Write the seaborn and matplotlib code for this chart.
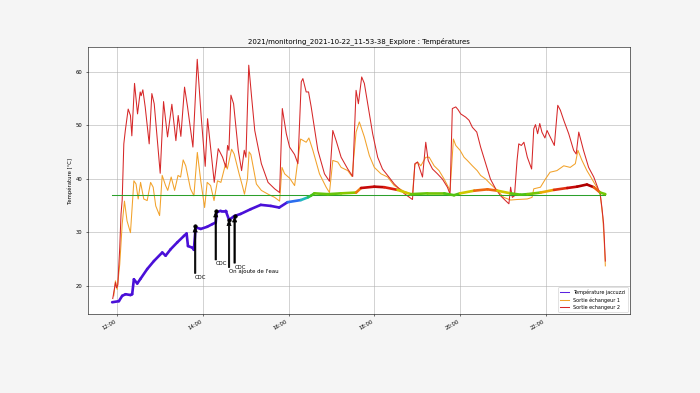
import numpy as np
import pandas as pd
import matplotlib
matplotlib.use("Agg")
import matplotlib.pyplot as plt
import matplotlib.dates as mdates
from matplotlib.collections import LineCollection
from matplotlib.colors import LinearSegmentedColormap, Normalize
import seaborn as sns

DAY = "2021-10-22"
TITLE = "2021/monitoring_2021-10-22_11-53-38_Explore : Températures"
YLABEL = "Température [°C]"
SETPOINT = 37.0

# Température jaccuzzi (hours of day, °C)
jacuzzi_hours = [11.883, 12.04, 12.117, 12.195, 12.31, 12.35, 12.39, 12.468, 12.546, 12.70,
                 12.857, 13.052, 13.13, 13.247, 13.403, 13.559, 13.62, 13.652, 13.754, 13.79,
                 13.83, 13.95, 14.10, 14.22, 14.30, 14.32, 14.416, 14.533, 14.61, 14.73,
                 14.88, 15.117, 15.35, 15.585, 15.78, 15.975, 16.287, 16.45, 16.52, 16.6,
                 16.915, 17.225, 17.574, 17.69, 18.0, 18.23, 18.54, 18.85, 19.24, 19.63,
                 19.86, 20.0, 20.33, 20.64, 20.87, 21.18, 21.41, 21.57, 21.88, 22.19,
                 22.5, 22.73, 22.96, 23.12, 23.27, 23.39]
jacuzzi_temp = [16.9, 17.1, 18.1, 18.4, 18.25, 18.4, 21.2, 20.4, 21.3, 23.1,
                24.6, 26.2, 25.6, 26.8, 28.1, 29.3, 29.75, 27.4, 27.1, 26.7,
                30.9, 30.6, 31.0, 31.5, 31.8, 33.7, 34.0, 34.0, 32.3, 33.0,
                33.4, 34.3, 35.1, 34.9, 34.6, 35.6, 36.0, 36.5, 36.8, 37.25,
                37.1, 37.25, 37.4, 38.25, 38.5, 38.4, 37.9, 37.1, 37.25, 37.25,
                36.9, 37.25, 37.75, 38.0, 37.75, 37.25, 37.0, 37.1, 37.4, 37.9,
                38.25, 38.5, 38.9, 38.4, 37.4, 37.1]

# Sortie échangeur 1
ech1_hours = [11.92, 11.96, 12.0, 12.06, 12.117, 12.17, 12.23, 12.31, 12.39, 12.44,
              12.49, 12.546, 12.62, 12.70, 12.78, 12.84, 12.9, 12.99, 13.05, 13.13,
              13.18, 13.26, 13.34, 13.42, 13.48, 13.54, 13.6, 13.71, 13.79, 13.87,
              13.95, 14.04, 14.10, 14.18, 14.26, 14.34, 14.42, 14.53, 14.57, 14.67,
              14.73, 14.845, 14.92, 14.97, 15.04, 15.078, 15.12, 15.248, 15.364, 15.52,
              15.674, 15.79, 15.845, 15.907, 16.023, 16.14, 16.28, 16.41, 16.473, 16.566,
              16.72, 16.876, 16.953, 17.031, 17.147, 17.225, 17.38, 17.48, 17.574, 17.65,
              17.767, 17.884, 18.0, 18.155, 18.31, 18.465, 18.70, 18.89, 18.946, 19.008,
              19.085, 19.2, 19.28, 19.395, 19.51, 19.63, 19.767, 19.845, 19.9, 20.0,
              20.093, 20.17, 20.287, 20.4, 20.48, 20.6, 20.71, 20.87, 21.02, 21.18,
              21.33, 21.57, 21.68, 21.72, 21.876, 21.99, 22.1, 22.26, 22.42, 22.57,
              22.69, 22.75, 22.845, 22.96, 23.08, 23.19, 23.27, 23.33, 23.36, 23.39]
ech1_temp = [18.1, 20.9, 19.3, 24.0, 31.5, 35.8, 32.1, 29.9, 39.6, 39.0,
             36.2, 39.3, 36.2, 35.9, 39.3, 38.4, 34.9, 33.1, 40.6, 38.7,
             37.8, 40.3, 37.8, 40.6, 40.3, 43.5, 42.4, 38.1, 36.8, 44.9,
             39.6, 34.6, 39.3, 38.7, 35.9, 39.6, 39.3, 42.8, 41.8, 45.5,
             44.6, 40.9, 38.7, 37.1, 40.0, 45.0, 44.5, 39.0, 37.8, 37.1,
             36.5, 35.8, 42.1, 40.9, 40.1, 38.7, 47.4, 46.8, 47.6, 45.3,
             40.9, 38.4, 37.4, 43.4, 43.1, 42.1, 41.5, 40.4, 48.7, 50.6,
             47.8, 44.3, 42.1, 40.9, 40.3, 38.7, 37.6, 37.1, 42.6, 43.1,
             42.4, 44.0, 44.0, 42.4, 41.5, 39.9, 37.8, 47.4, 46.2, 45.3,
             44.0, 43.4, 42.4, 41.5, 40.6, 39.9, 39.0, 37.8, 36.5, 36.0,
             36.1, 36.2, 36.5, 38.1, 38.4, 39.9, 41.2, 41.5, 42.4, 42.1,
             42.8, 45.3, 43.4, 41.5, 39.9, 38.4, 37.1, 32.8, 29.0, 23.7]

# Sortie echangeur 2
ech2_hours = [11.897, 11.96, 11.984, 12.014, 12.06, 12.09, 12.117, 12.155, 12.19, 12.257,
              12.31, 12.342, 12.405, 12.475, 12.537, 12.56, 12.599, 12.654, 12.747, 12.809,
              12.864, 13.004, 13.082, 13.175, 13.276, 13.37, 13.424, 13.486, 13.572, 13.642,
              13.767, 13.868, 13.961, 14.054, 14.109, 14.171, 14.265, 14.358, 14.459, 14.537,
              14.576, 14.607, 14.654, 14.716, 14.825, 14.903, 14.965, 15.004, 15.07, 15.136,
              15.21, 15.364, 15.52, 15.674, 15.79, 15.853, 15.946, 16.023, 16.14, 16.217,
              16.295, 16.333, 16.41, 16.465, 16.527, 16.682, 16.837, 16.953, 17.031, 17.109,
              17.225, 17.38, 17.496, 17.574, 17.628, 17.705, 17.767, 17.845, 17.961, 18.078,
              18.19, 18.31, 18.465, 18.70, 18.89, 18.946, 19.008, 19.124, 19.2, 19.256,
              19.357, 19.473, 19.59, 19.705, 19.767, 19.82, 19.9, 19.953, 20.015, 20.13,
              20.21, 20.287, 20.39, 20.48, 20.6, 20.71, 20.83, 20.946, 21.06, 21.14,
              21.18, 21.22, 21.27, 21.33, 21.37, 21.43, 21.49, 21.57, 21.67, 21.72,
              21.76, 21.81, 21.86, 21.91, 21.98, 22.03, 22.085, 22.2, 22.28, 22.34,
              22.42, 22.535, 22.65, 22.71, 22.77, 22.88, 23.0, 23.12, 23.21, 23.27,
              23.31, 23.35, 23.39]
ech2_temp = [17.6, 20.6, 19.6, 20.1, 27.1, 33.4, 36.0, 46.5, 49.0, 53.0,
             51.8, 48.0, 57.8, 52.1, 56.2, 55.5, 56.6, 53.4, 46.5, 55.9,
             54.0, 41.0, 54.4, 47.8, 53.9, 47.1, 51.8, 47.9, 57.1, 53.4,
             45.9, 62.3, 51.5, 42.3, 51.2, 46.5, 39.3, 45.6, 44.0, 42.1,
             46.2, 45.3, 55.6, 54.0, 45.3, 41.5, 45.3, 44.0, 61.2, 55.3,
             49.0, 42.8, 39.3, 38.1, 37.4, 53.1, 48.4, 45.9, 44.5, 42.8,
             58.1, 58.7, 56.2, 56.2, 53.4, 45.3, 40.9, 39.5, 49.0, 47.1,
             44.0, 41.8, 40.4, 56.5, 54.0, 59.0, 57.8, 54.0, 48.4, 44.0,
             41.8, 40.6, 39.0, 37.2, 36.1, 42.8, 43.1, 40.3, 46.8, 43.4,
             41.8, 40.9, 39.9, 38.4, 37.1, 53.1, 53.4, 52.9, 52.1, 51.5,
             50.9, 49.6, 48.7, 45.9, 42.8, 39.9, 38.1, 36.8, 35.9, 35.3,
             38.4, 36.5, 36.8, 43.4, 46.5, 46.2, 46.8, 44.0, 41.8, 49.3,
             50.1, 48.4, 50.3, 48.7, 47.6, 49.0, 48.1, 46.2, 53.7, 52.8,
             50.9, 48.4, 45.3, 44.6, 48.7, 45.3, 42.1, 40.3, 38.4, 37.1,
             34.6, 31.5, 24.6]

# Events annotated on the jacuzzi curve
event_labels = ["CDC", "CDC", "On ajoute de l'eau", "CDC"]
event_hours = [13.82, 14.30, 14.61, 14.74]
event_temp = [31.06, 33.87, 32.26, 32.93]
# text anchor (layout) for each event, in data coordinates
event_text_temp = [21.3, 23.8, 22.4, 23.2]


def to_time(hours):
    return pd.Timestamp(DAY) + pd.to_timedelta(np.asarray(hours, dtype=float), unit="h")


t_j = to_time(jacuzzi_hours)
t_1 = to_time(ech1_hours)
t_2 = to_time(ech2_hours)
t_e = to_time(event_hours)

fig, ax = plt.subplots(figsize=(14, 7.86), dpi=50)
fig.patch.set_facecolor("#f5f5f5")
ax.set_facecolor("white")

df_j = pd.DataFrame({"time": t_j, "temp": jacuzzi_temp})
df_1 = pd.DataFrame({"time": t_1, "temp": ech1_temp})
df_2 = pd.DataFrame({"time": t_2, "temp": ech2_temp})

sns.lineplot(data=df_j, x="time", y="temp", ax=ax, color="#5a22e0", lw=1.5,
             label="Température jaccuzzi", zorder=3)
sns.lineplot(data=df_1, x="time", y="temp", ax=ax, color="#f2a22a", lw=1.5,
             label="Sortie échangeur 1", zorder=2)
sns.lineplot(data=df_2, x="time", y="temp", ax=ax, color="#d62728", lw=1.5,
             label="Sortie echangeur 2", zorder=2)

# setpoint line over the measured period
ax.plot([t_j[0], t_j[-1]], [SETPOINT, SETPOINT], color="#2ca02c", lw=1.5, zorder=3)

# jacuzzi curve coloured by temperature
cmap = LinearSegmentedColormap.from_list("jac", [
    (0.000, "#4a10d8"), (0.194, "#3050f0"), (0.278, "#20b0e8"), (0.389, "#20c0a0"),
    (0.528, "#30c020"), (0.640, "#80c800"), (0.710, "#e8c800"), (0.792, "#f07010"),
    (0.889, "#d81010"), (1.000, "#b00000")])
norm = Normalize(vmin=35.0, vmax=38.6)
xj = mdates.date2num(t_j)
yj = np.asarray(jacuzzi_temp)
pts = np.column_stack([xj, yj]).reshape(-1, 1, 2)
segs = np.concatenate([pts[:-1], pts[1:]], axis=1)
seg_vals = (yj[:-1] + yj[1:]) / 2
lc = LineCollection(segs, colors=cmap(norm(seg_vals)), linewidths=3.8, zorder=4,
                    capstyle="round", joinstyle="round")
ax.add_collection(lc)

# events
ax.plot(t_e, event_temp, "o", color="black", ms=5, zorder=6)
for lab, t, y, ty in zip(event_labels, t_e, event_temp, event_text_temp):
    xd = mdates.date2num(t)
    ax.annotate(lab, xy=(xd, y), xytext=(xd, ty), fontsize=7.8, ha="left",
                va="baseline", zorder=7,
                arrowprops=dict(facecolor="black", edgecolor="black", width=2,
                                headwidth=6, headlength=8, shrink=0.0))

ax.xaxis.set_major_locator(mdates.HourLocator(byhour=range(0, 24, 2)))
ax.xaxis.set_major_formatter(mdates.DateFormatter("%H:%M"))
ax.grid(True, color="#b0b0b0", lw=0.8)
ax.set_axisbelow(True)
ax.set_xlabel("")
ax.set_ylabel(YLABEL, fontsize=7.5)
ax.set_title(TITLE, fontsize=10)
ax.tick_params(labelsize=7.5)
ax.legend(loc="lower right", fontsize=7)

fig.subplots_adjust(left=0.125, right=0.9, top=0.88)
fig.autofmt_xdate()
fig.savefig("out.png", dpi=50, facecolor=fig.get_facecolor())
